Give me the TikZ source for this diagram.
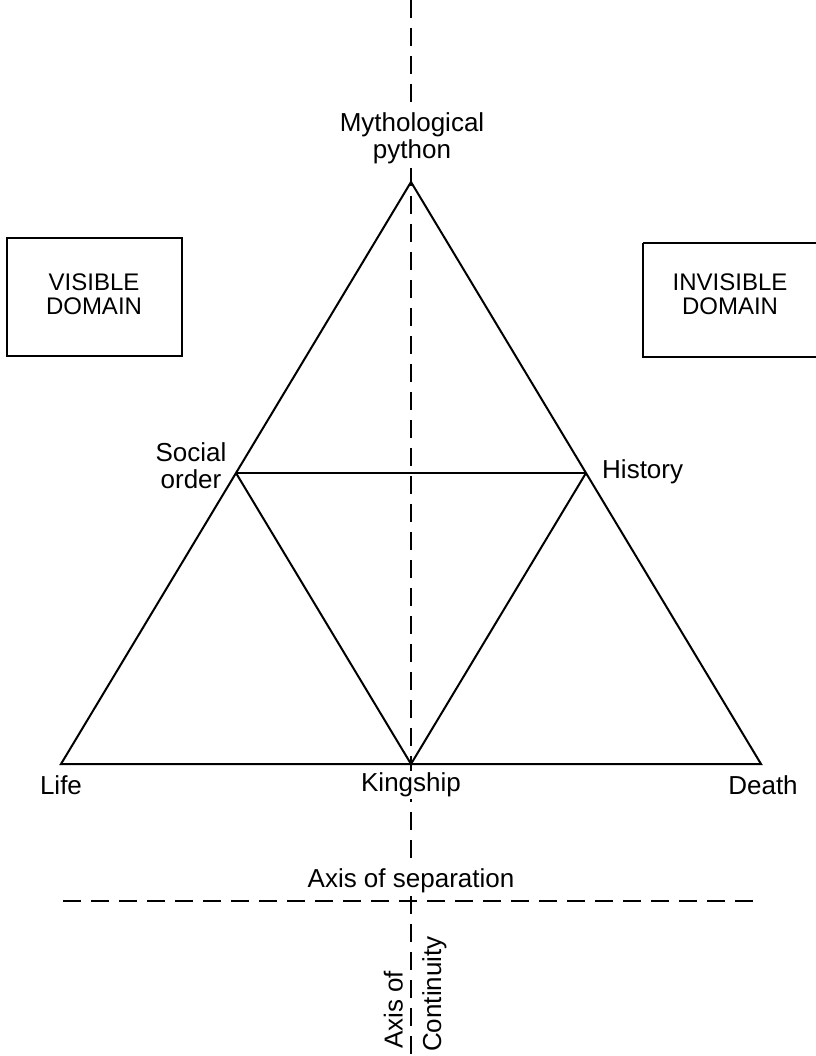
\documentclass[tikz,border=0pt]{standalone}
\usepackage{fontspec}
\setmainfont{Liberation Sans}
\begin{document}
\begin{tikzpicture}[x=1pt,y=-1pt,
  edge/.style={line width=2pt},
  axisline/.style={line width=1.5pt, dash pattern=on 18pt off 10pt},
  lbl/.style={inner sep=1pt, font=\fontsize{26}{27}\selectfont, align=center},
  boxlbl/.style={inner sep=1pt, font=\fontsize{24}{24}\selectfont, align=center},
  onaxis/.style={lbl, fill=white, inner sep=3pt},
  domainbox/.style={draw, line width=2pt}]
\useasboundingbox (0,0) rectangle (815,1056);
\fill[white] (0,0) rectangle (815,1056);
% vertices
\coordinate (apex) at (411,182);
\coordinate (life) at (61,764);
\coordinate (death) at (761,764);
\coordinate (king) at (411,764);
\coordinate (soc) at (236,473);
\coordinate (hist) at (586,473);
% axes
\coordinate (vtop) at (411,0);
\coordinate (vbot) at (411,1056);
\coordinate (hl) at (63,901);
\coordinate (hr) at (762,901);
\draw[axisline] (vtop) -- (vbot);
\draw[axisline] (hl) -- (hr);
% triangle
\draw[edge, line join=miter] (life) -- (apex) -- (death) -- cycle;
\draw[edge] (soc) -- (hist);
\draw[edge] (soc) -- (king) -- (hist);
% boxes
\draw[domainbox] (7,238) rectangle (182,356);
\node[boxlbl] (vis) at (94,294) {VISIBLE\\DOMAIN};
\draw[domainbox] (643,243) -- (820,243) (643,243) -- (643,357) -- (820,357);
\node[boxlbl] (invis) at (730,294) {INVISIBLE\\DOMAIN};
% labels
\node[onaxis] (myth) at (412,138) {Mythological\\python};
\node[lbl] (soclbl) at (191,466) {Social\\order};
\node[lbl, anchor=west] (histlbl) at (601,472) {History};
\node[lbl] (lifelbl) at (61,785) {Life};
\node[onaxis, inner sep=2pt] (kinglbl) at (411,785) {Kingship};
\node[lbl] (deathlbl) at (763,785) {Death};
\node[onaxis, inner sep=1pt] (sep) at (411,881) {Axis of separation};
\node[lbl, rotate=90, anchor=south west] (axof) at (404,1050) {Axis of};
\node[lbl, rotate=90, anchor=north west] (cont) at (421,1053) {Continuity};
\end{tikzpicture}
\end{document}
